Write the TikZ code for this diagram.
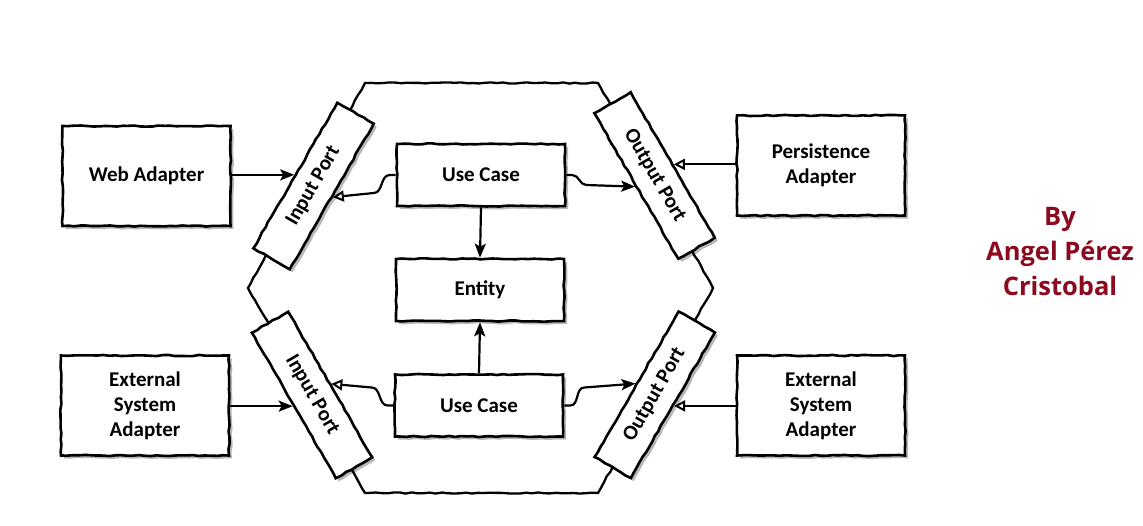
\documentclass[tikz,border=0pt]{standalone}
\usepackage{fontspec}
\setmainfont{Carlito}
\newfontfamily\authorfont{Open Sans}
\usetikzlibrary{shadows,decorations.pathmorphing,arrows.meta,calc}
\definecolor{authorred}{RGB}{140,10,32}
\begin{document}
\pgfmathsetseed{7}
\begin{tikzpicture}[x=1pt,y=-1pt,
  sketch/.style={decorate,decoration={random steps,segment length=6pt,amplitude=0.6pt}},
  box/.style={draw,line width=2.6pt,fill=white,sketch,
    drop shadow={shadow xshift=3pt,shadow yshift=-3pt,opacity=0.28,fill=black},
    minimum width=168pt,inner sep=0pt,align=center,font=\fontsize{21}{25}\selectfont\bfseries},
  adapter/.style={box,minimum height=100pt},
  core/.style={box,minimum height=62pt},
  port/.style={box,minimum height=42pt},
  hexline/.style={draw,line width=2.3pt,sketch},
  conn/.style={line width=2.2pt},
  filled/.style={conn,-{Stealth[length=14pt,width=11pt,inset=3pt]}},
  hollow/.style={conn,-{Triangle[open,length=11pt,width=11pt,line width=2pt]}}
]
\useasboundingbox (0,0) rectangle (1143,525);
\fill[white] (0,0) rectangle (1143,525);

% hexagon
\draw[hexline] (365,83) -- (598,83) -- (713,288) -- (598,493) -- (365,493) -- (248,288) -- cycle;

% adapters
\node[adapter] (web) at (146.5,176) {Web Adapter};
\node[adapter] (extl) at (145,405.5) {External\\System\\Adapter};
\node[adapter] (pers) at (821,165.5) {Persistence\\Adapter};
\node[adapter] (extr) at (821,405.5) {External\\System\\Adapter};

% core
\node[core] (uc1) at (481,175) {Use Case};
\node[core] (entity) at (480,290) {Entity};
\node[core] (uc2) at (479,405.5) {Use Case};

% ports
\node[port,rotate=60] (inport1) at (313.5,186) {Input Port};
\node[port,rotate=-60] (outport1) at (654.5,175.5) {Output Port};
\node[port,rotate=-60] (inport2) at (312,395) {Input Port};
\node[port,rotate=60] (outport2) at (654.75,394.75) {Output Port};

% connectors
\draw[filled] (web.east |- inport1.north) -- (inport1.north);
\draw[filled] (extl.east |- inport2.south) -- (inport2.south);
\draw[hollow] (pers.west |- outport1.north) -- (outport1.north);
\draw[hollow] (extr.west |- outport2.south) -- (outport2.south);

\draw[hollow] (uc1.west) -- ++(-6,0) to[out=180,in=0] ++(-16,18) -- (inport1.south);
\draw[filled] (uc1.east) -- ++(6,0) to[out=0,in=180] ++(14,10) -- (outport1.south);
\draw[hollow] (uc2.west) -- ++(-6,0) to[out=180,in=0] ++(-16,-18) -- (inport2.north);
\draw[filled] (uc2.east) -- ++(6,0) to[out=0,in=180] ++(14,-18) -- (outport2.north);

\draw[filled] (uc1.south) -- (entity.north);
\draw[filled] (uc2.north) -- (entity.south);

% author
\node[font=\authorfont\bfseries\fontsize{25.5}{35}\selectfont,text=authorred,align=center] (author) at (1060,252) {By\\Angel Pérez\\Cristobal};
\end{tikzpicture}
\end{document}
